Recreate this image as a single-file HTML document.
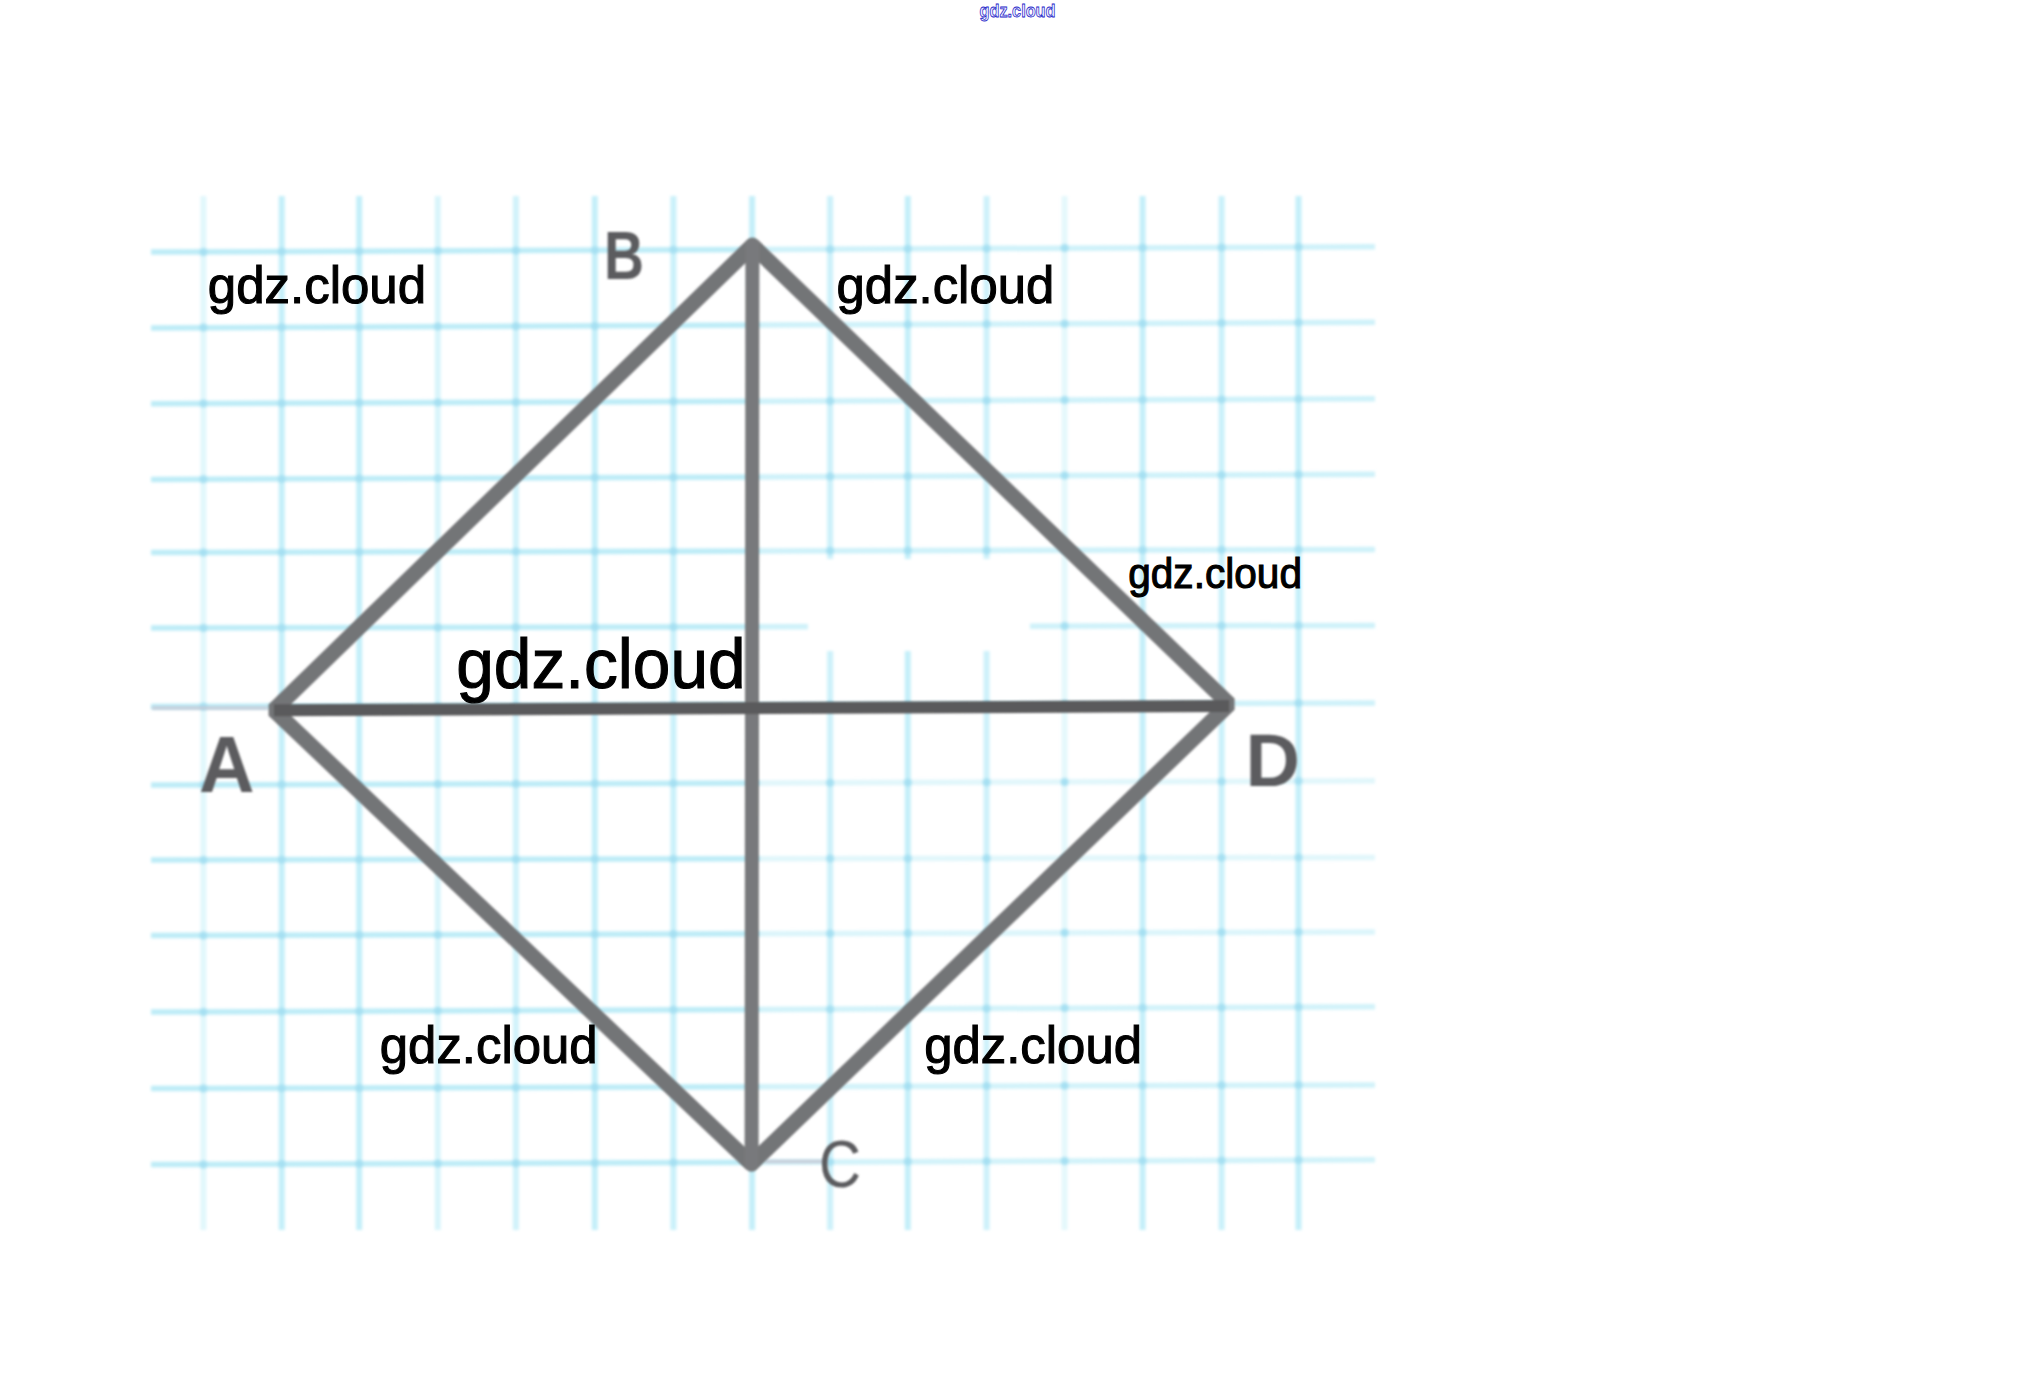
<!DOCTYPE html><html><head><meta charset="utf-8"><style>html,body{margin:0;padding:0;background:#fff;overflow:hidden}svg{display:block}</style></head><body>
<svg width="2034" height="1385" viewBox="0 0 2034 1385">
<defs><filter id="bl" x="-5%" y="-5%" width="110%" height="110%"><feGaussianBlur stdDeviation="1.5"/></filter><filter id="bl2" x="-5%" y="-5%" width="110%" height="110%"><feGaussianBlur stdDeviation="0.8"/></filter><filter id="bl3" x="-5%" y="-5%" width="110%" height="110%"><feGaussianBlur stdDeviation="1.3"/></filter></defs>
<rect width="2034" height="1385" fill="#fff"/>
<g filter="url(#bl)" fill="none">
<g stroke="#bdecf7" stroke-width="5.5">
<line x1="151" y1="252.1" x2="760" y2="249.5"/>
<line x1="760" y1="249.5" x2="1375" y2="246.8" stroke-opacity="0.75"/>
<line x1="151" y1="327.9" x2="760" y2="325.1"/>
<line x1="760" y1="325.1" x2="1375" y2="322.3" stroke-opacity="0.75"/>
<line x1="151" y1="403.7" x2="760" y2="401.3"/>
<line x1="760" y1="401.3" x2="1375" y2="398.8" stroke-opacity="0.75"/>
<line x1="151" y1="479.5" x2="760" y2="476.9"/>
<line x1="760" y1="476.9" x2="1375" y2="474.3" stroke-opacity="0.75"/>
<line x1="151" y1="552.5" x2="760" y2="551.0"/>
<line x1="760" y1="551.0" x2="1375" y2="549.4" stroke-opacity="0.75"/>
<line x1="151" y1="628.0" x2="760" y2="626.7"/>
<line x1="760" y1="626.7" x2="1375" y2="625.4" stroke-opacity="0.75"/>
<line x1="151" y1="706.6" x2="760" y2="704.7"/>
<line x1="760" y1="704.7" x2="1375" y2="702.9" stroke-opacity="0.75"/>
<line x1="151" y1="785.1" x2="760" y2="783.0"/>
<line x1="760" y1="783.0" x2="1375" y2="780.8" stroke-opacity="0.45"/>
<line x1="151" y1="860.0" x2="760" y2="858.7"/>
<line x1="760" y1="858.7" x2="1375" y2="857.4" stroke-opacity="0.45"/>
<line x1="151" y1="935.6" x2="760" y2="933.7"/>
<line x1="760" y1="933.7" x2="1375" y2="931.9" stroke-opacity="0.55"/>
<line x1="151" y1="1012.1" x2="760" y2="1009.5"/>
<line x1="760" y1="1009.5" x2="1375" y2="1006.8" stroke-opacity="0.7"/>
<line x1="151" y1="1088.6" x2="760" y2="1086.7"/>
<line x1="760" y1="1086.7" x2="1375" y2="1084.9" stroke-opacity="0.7"/>
<line x1="151" y1="1164.6" x2="760" y2="1162.2"/>
<line x1="760" y1="1162.2" x2="1375" y2="1159.8" stroke-opacity="0.7"/>
</g><g stroke="#c4eff9" stroke-width="6">
<line x1="203.4" y1="196" x2="203.4" y2="1230" stroke-opacity="0.5"/>
<line x1="281.7" y1="196" x2="281.7" y2="1230" stroke-opacity="1"/>
<line x1="359.2" y1="196" x2="359.2" y2="1230" stroke-opacity="1"/>
<line x1="437.8" y1="196" x2="437.8" y2="1230" stroke-opacity="0.65"/>
<line x1="515.9" y1="196" x2="515.9" y2="1230" stroke-opacity="0.8"/>
<line x1="594.8" y1="196" x2="594.8" y2="1230" stroke-opacity="1"/>
<line x1="673.4" y1="196" x2="673.4" y2="1230" stroke-opacity="0.9"/>
<line x1="752.1" y1="196" x2="752.1" y2="1230" stroke-opacity="1"/>
<line x1="830.1" y1="196" x2="830.1" y2="1230" stroke-opacity="0.85"/>
<line x1="907.8" y1="196" x2="907.8" y2="1230" stroke-opacity="1"/>
<line x1="986.6" y1="196" x2="986.6" y2="1230" stroke-opacity="0.85"/>
<line x1="1064.6" y1="196" x2="1064.6" y2="1230" stroke-opacity="0.45"/>
<line x1="1142.6" y1="196" x2="1142.6" y2="1230" stroke-opacity="1"/>
<line x1="1221.6" y1="196" x2="1221.6" y2="1230" stroke-opacity="0.9"/>
<line x1="1298.5" y1="196" x2="1298.5" y2="1230" stroke-opacity="1"/>
</g><g fill="#a6e0f2" stroke="none">
<circle cx="203.4" cy="251.9" r="4"/>
<circle cx="281.7" cy="251.5" r="4"/>
<circle cx="359.2" cy="251.2" r="4"/>
<circle cx="437.8" cy="250.8" r="4"/>
<circle cx="515.9" cy="250.5" r="4"/>
<circle cx="594.8" cy="250.2" r="4"/>
<circle cx="673.4" cy="249.8" r="4"/>
<circle cx="752.1" cy="249.5" r="4"/>
<circle cx="830.1" cy="249.2" r="4"/>
<circle cx="907.8" cy="248.8" r="4"/>
<circle cx="986.6" cy="248.5" r="4"/>
<circle cx="1064.6" cy="248.1" r="4"/>
<circle cx="1142.6" cy="247.8" r="4"/>
<circle cx="1221.6" cy="247.5" r="4"/>
<circle cx="1298.5" cy="247.1" r="4"/>
<circle cx="203.4" cy="327.6" r="4"/>
<circle cx="281.7" cy="327.3" r="4"/>
<circle cx="359.2" cy="326.9" r="4"/>
<circle cx="437.8" cy="326.6" r="4"/>
<circle cx="515.9" cy="326.2" r="4"/>
<circle cx="594.8" cy="325.9" r="4"/>
<circle cx="673.4" cy="325.5" r="4"/>
<circle cx="752.1" cy="325.1" r="4"/>
<circle cx="830.1" cy="324.8" r="4"/>
<circle cx="907.8" cy="324.4" r="4"/>
<circle cx="986.6" cy="324.1" r="4"/>
<circle cx="1064.6" cy="323.7" r="4"/>
<circle cx="1142.6" cy="323.4" r="4"/>
<circle cx="1221.6" cy="323.0" r="4"/>
<circle cx="1298.5" cy="322.6" r="4"/>
<circle cx="203.4" cy="403.5" r="4"/>
<circle cx="281.7" cy="403.2" r="4"/>
<circle cx="359.2" cy="402.8" r="4"/>
<circle cx="437.8" cy="402.5" r="4"/>
<circle cx="515.9" cy="402.2" r="4"/>
<circle cx="594.8" cy="401.9" r="4"/>
<circle cx="673.4" cy="401.6" r="4"/>
<circle cx="752.1" cy="401.3" r="4"/>
<circle cx="830.1" cy="401.0" r="4"/>
<circle cx="907.8" cy="400.7" r="4"/>
<circle cx="986.6" cy="400.4" r="4"/>
<circle cx="1064.6" cy="400.1" r="4"/>
<circle cx="1142.6" cy="399.7" r="4"/>
<circle cx="1221.6" cy="399.4" r="4"/>
<circle cx="1298.5" cy="399.1" r="4"/>
<circle cx="203.4" cy="479.3" r="4"/>
<circle cx="281.7" cy="478.9" r="4"/>
<circle cx="359.2" cy="478.6" r="4"/>
<circle cx="437.8" cy="478.3" r="4"/>
<circle cx="515.9" cy="477.9" r="4"/>
<circle cx="594.8" cy="477.6" r="4"/>
<circle cx="673.4" cy="477.3" r="4"/>
<circle cx="752.1" cy="476.9" r="4"/>
<circle cx="830.1" cy="476.6" r="4"/>
<circle cx="907.8" cy="476.3" r="4"/>
<circle cx="986.6" cy="476.0" r="4"/>
<circle cx="1064.6" cy="475.6" r="4"/>
<circle cx="1142.6" cy="475.3" r="4"/>
<circle cx="1221.6" cy="475.0" r="4"/>
<circle cx="1298.5" cy="474.6" r="4"/>
<circle cx="203.4" cy="552.4" r="4"/>
<circle cx="281.7" cy="552.2" r="4"/>
<circle cx="359.2" cy="552.0" r="4"/>
<circle cx="437.8" cy="551.8" r="4"/>
<circle cx="515.9" cy="551.6" r="4"/>
<circle cx="594.8" cy="551.4" r="4"/>
<circle cx="673.4" cy="551.2" r="4"/>
<circle cx="752.1" cy="551.0" r="4"/>
<circle cx="830.1" cy="550.8" r="4"/>
<circle cx="907.8" cy="550.6" r="4"/>
<circle cx="986.6" cy="550.4" r="4"/>
<circle cx="1064.6" cy="550.2" r="4"/>
<circle cx="1142.6" cy="550.0" r="4"/>
<circle cx="1221.6" cy="549.8" r="4"/>
<circle cx="1298.5" cy="549.6" r="4"/>
<circle cx="203.4" cy="627.9" r="4"/>
<circle cx="281.7" cy="627.8" r="4"/>
<circle cx="359.2" cy="627.6" r="4"/>
<circle cx="437.8" cy="627.4" r="4"/>
<circle cx="515.9" cy="627.3" r="4"/>
<circle cx="594.8" cy="627.1" r="4"/>
<circle cx="673.4" cy="626.9" r="4"/>
<circle cx="752.1" cy="626.7" r="4"/>
<circle cx="830.1" cy="626.6" r="4"/>
<circle cx="907.8" cy="626.4" r="4"/>
<circle cx="986.6" cy="626.2" r="4"/>
<circle cx="1064.6" cy="626.1" r="4"/>
<circle cx="1142.6" cy="625.9" r="4"/>
<circle cx="1221.6" cy="625.7" r="4"/>
<circle cx="1298.5" cy="625.6" r="4"/>
<circle cx="203.4" cy="706.4" r="4"/>
<circle cx="281.7" cy="706.2" r="4"/>
<circle cx="359.2" cy="705.9" r="4"/>
<circle cx="437.8" cy="705.7" r="4"/>
<circle cx="515.9" cy="705.5" r="4"/>
<circle cx="594.8" cy="705.2" r="4"/>
<circle cx="673.4" cy="705.0" r="4"/>
<circle cx="752.1" cy="704.7" r="4"/>
<circle cx="830.1" cy="704.5" r="4"/>
<circle cx="907.8" cy="704.3" r="4"/>
<circle cx="986.6" cy="704.0" r="4"/>
<circle cx="1064.6" cy="703.8" r="4"/>
<circle cx="1142.6" cy="703.6" r="4"/>
<circle cx="1221.6" cy="703.3" r="4"/>
<circle cx="1298.5" cy="703.1" r="4"/>
<circle cx="203.4" cy="784.9" r="4"/>
<circle cx="281.7" cy="784.6" r="4"/>
<circle cx="359.2" cy="784.3" r="4"/>
<circle cx="437.8" cy="784.1" r="4"/>
<circle cx="515.9" cy="783.8" r="4"/>
<circle cx="594.8" cy="783.5" r="4"/>
<circle cx="673.4" cy="783.3" r="4"/>
<circle cx="752.1" cy="783.0" r="4"/>
<circle cx="830.1" cy="782.7" r="4"/>
<circle cx="907.8" cy="782.5" r="4"/>
<circle cx="986.6" cy="782.2" r="4"/>
<circle cx="1064.6" cy="781.9" r="4"/>
<circle cx="1142.6" cy="781.6" r="4"/>
<circle cx="1221.6" cy="781.4" r="4"/>
<circle cx="1298.5" cy="781.1" r="4"/>
<circle cx="203.4" cy="859.9" r="4"/>
<circle cx="281.7" cy="859.8" r="4"/>
<circle cx="359.2" cy="859.6" r="4"/>
<circle cx="437.8" cy="859.4" r="4"/>
<circle cx="515.9" cy="859.3" r="4"/>
<circle cx="594.8" cy="859.1" r="4"/>
<circle cx="673.4" cy="858.9" r="4"/>
<circle cx="752.1" cy="858.7" r="4"/>
<circle cx="830.1" cy="858.6" r="4"/>
<circle cx="907.8" cy="858.4" r="4"/>
<circle cx="986.6" cy="858.2" r="4"/>
<circle cx="1064.6" cy="858.1" r="4"/>
<circle cx="1142.6" cy="857.9" r="4"/>
<circle cx="1221.6" cy="857.7" r="4"/>
<circle cx="1298.5" cy="857.6" r="4"/>
<circle cx="203.4" cy="935.4" r="4"/>
<circle cx="281.7" cy="935.2" r="4"/>
<circle cx="359.2" cy="934.9" r="4"/>
<circle cx="437.8" cy="934.7" r="4"/>
<circle cx="515.9" cy="934.5" r="4"/>
<circle cx="594.8" cy="934.2" r="4"/>
<circle cx="673.4" cy="934.0" r="4"/>
<circle cx="752.1" cy="933.7" r="4"/>
<circle cx="830.1" cy="933.5" r="4"/>
<circle cx="907.8" cy="933.3" r="4"/>
<circle cx="986.6" cy="933.0" r="4"/>
<circle cx="1064.6" cy="932.8" r="4"/>
<circle cx="1142.6" cy="932.6" r="4"/>
<circle cx="1221.6" cy="932.3" r="4"/>
<circle cx="1298.5" cy="932.1" r="4"/>
<circle cx="203.4" cy="1011.9" r="4"/>
<circle cx="281.7" cy="1011.5" r="4"/>
<circle cx="359.2" cy="1011.2" r="4"/>
<circle cx="437.8" cy="1010.8" r="4"/>
<circle cx="515.9" cy="1010.5" r="4"/>
<circle cx="594.8" cy="1010.2" r="4"/>
<circle cx="673.4" cy="1009.8" r="4"/>
<circle cx="752.1" cy="1009.5" r="4"/>
<circle cx="830.1" cy="1009.2" r="4"/>
<circle cx="907.8" cy="1008.8" r="4"/>
<circle cx="986.6" cy="1008.5" r="4"/>
<circle cx="1064.6" cy="1008.1" r="4"/>
<circle cx="1142.6" cy="1007.8" r="4"/>
<circle cx="1221.6" cy="1007.5" r="4"/>
<circle cx="1298.5" cy="1007.1" r="4"/>
<circle cx="203.4" cy="1088.4" r="4"/>
<circle cx="281.7" cy="1088.2" r="4"/>
<circle cx="359.2" cy="1087.9" r="4"/>
<circle cx="437.8" cy="1087.7" r="4"/>
<circle cx="515.9" cy="1087.5" r="4"/>
<circle cx="594.8" cy="1087.2" r="4"/>
<circle cx="673.4" cy="1087.0" r="4"/>
<circle cx="752.1" cy="1086.7" r="4"/>
<circle cx="830.1" cy="1086.5" r="4"/>
<circle cx="907.8" cy="1086.3" r="4"/>
<circle cx="986.6" cy="1086.0" r="4"/>
<circle cx="1064.6" cy="1085.8" r="4"/>
<circle cx="1142.6" cy="1085.6" r="4"/>
<circle cx="1221.6" cy="1085.3" r="4"/>
<circle cx="1298.5" cy="1085.1" r="4"/>
<circle cx="203.4" cy="1164.4" r="4"/>
<circle cx="281.7" cy="1164.1" r="4"/>
<circle cx="359.2" cy="1163.8" r="4"/>
<circle cx="437.8" cy="1163.5" r="4"/>
<circle cx="515.9" cy="1163.2" r="4"/>
<circle cx="594.8" cy="1162.9" r="4"/>
<circle cx="673.4" cy="1162.5" r="4"/>
<circle cx="752.1" cy="1162.2" r="4"/>
<circle cx="830.1" cy="1161.9" r="4"/>
<circle cx="907.8" cy="1161.6" r="4"/>
<circle cx="986.6" cy="1161.3" r="4"/>
<circle cx="1064.6" cy="1161.0" r="4"/>
<circle cx="1142.6" cy="1160.7" r="4"/>
<circle cx="1221.6" cy="1160.4" r="4"/>
<circle cx="1298.5" cy="1160.1" r="4"/>
</g></g>
<rect x="808" y="559" width="222" height="92" fill="#fff" filter="url(#bl)"/>
<g stroke="#c4c8d4" stroke-width="3" filter="url(#bl)"><line x1="152" y1="708" x2="268" y2="708"/><line x1="765" y1="1161.5" x2="826" y2="1161.5"/></g>
<g id="fig" filter="url(#bl2)" fill="none" stroke-linejoin="bevel" stroke-linecap="butt">
<path d="M273.9 710.1 L752.5 245.4 L1229.2 704.2 L751.4 1163.8 Z" stroke="#737577" stroke-width="15.5"/>
<line x1="752.4" y1="244.5" x2="751.6" y2="1164.8" stroke="#78797b" stroke-width="14" stroke-linecap="round"/>
<line x1="273.9" y1="710.2" x2="1229.2" y2="706.0" stroke="#5a5a5c" stroke-width="12"/>
</g>
<g filter="url(#bl3)" font-family="Liberation Sans, sans-serif" fill="#5c5c5e">
<text id="lbA" x="199" y="791.5" font-size="79" font-weight="bold" textLength="55.5" lengthAdjust="spacingAndGlyphs">A</text>
<text id="lbB" x="604" y="278.5" font-size="68" font-weight="bold" textLength="40" lengthAdjust="spacingAndGlyphs">B</text>
<text id="lbD" x="1245.5" y="786.2" font-size="73.5" font-weight="bold" textLength="54.5" lengthAdjust="spacingAndGlyphs">D</text>
<text id="lbC" x="819" y="1187" font-size="66" textLength="42" lengthAdjust="spacingAndGlyphs">C</text>
</g>
<g font-family="Liberation Sans, sans-serif" fill="#000" stroke="#000" stroke-width="1.1">
<text x="207.8" y="302.5" font-size="51.3" textLength="218.2" lengthAdjust="spacingAndGlyphs">gdz.cloud</text>
<text x="836.6" y="302.9" font-size="52.0" textLength="217.6" lengthAdjust="spacingAndGlyphs">gdz.cloud</text>
<text x="1128.2" y="587.5" font-size="41.6" textLength="173.8" lengthAdjust="spacingAndGlyphs">gdz.cloud</text>
<text x="456.2" y="688.0" font-size="70.0" textLength="289.4" lengthAdjust="spacingAndGlyphs">gdz.cloud</text>
<text x="379.8" y="1062.8" font-size="51.9" textLength="217.8" lengthAdjust="spacingAndGlyphs">gdz.cloud</text>
<text x="924.2" y="1062.7" font-size="51.6" textLength="217.8" lengthAdjust="spacingAndGlyphs">gdz.cloud</text>
</g>
<text id="topwm" x="979.5" y="17" font-family="Liberation Sans, sans-serif" font-size="19" font-weight="bold" fill="#f4f4ff" stroke="#2222c8" stroke-width="0.8" textLength="76" lengthAdjust="spacingAndGlyphs">gdz.cloud</text>
</svg></body></html>
